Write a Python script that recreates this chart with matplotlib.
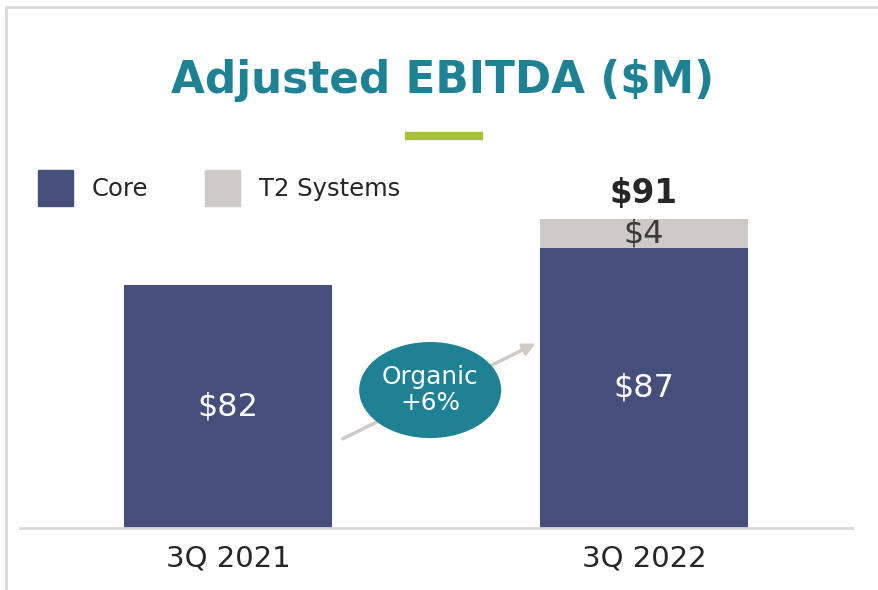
import matplotlib.pyplot as plt
from matplotlib.patches import Ellipse, Patch, Rectangle
from matplotlib.lines import Line2D

# data
quarters = ["3Q 2021", "3Q 2022"]
core = [82, 87]
t2 = [0, 4]
organic_label = "Organic\n+6%"

CORE_C = "#464F7C"
T2_C = "#CFCAC7"
TEAL = "#1F8294"
GREEN = "#A8C23E"

fig = plt.figure(figsize=(8.79, 5.9), dpi=100)
ax = fig.add_axes([20 / 879, 62 / 590, 832 / 879, 358 / 590])

x = list(range(len(quarters)))
ax.bar(x, core, width=0.5, color=CORE_C, zorder=2)
ax.bar(x, t2, width=0.5, bottom=core, color=T2_C, zorder=2)

ymin = 49.2
ax.set_xlim(-0.5, 1.5)
ax.set_ylim(ymin, 97.6)

for i in x:
    ax.text(i, (ymin + core[i]) / 2, f"${core[i]}", ha="center", va="center",
            color="white", fontsize=23)
    if t2[i] > 0:
        ax.text(i, core[i] + t2[i] / 2, f"${t2[i]}", ha="center", va="center",
                color="#3a3a3a", fontsize=23)
        total = core[i] + t2[i]
        ax.text(i, total + 3.4, f"${total}", ha="center", va="center",
                color="#262626", fontsize=23.5, fontweight="bold")

# organic growth arrow + bubble
ax.annotate("", xy=(0.745, 74.3), xytext=(0.27, 61.1),
            arrowprops=dict(arrowstyle="-|>,head_length=0.7,head_width=0.35",
                            color=T2_C, lw=2.5), zorder=3)
ax.add_patch(Ellipse((0.486, 67.85), 0.338, 12.8, color=TEAL, zorder=4))
ax.text(0.486, 67.85, organic_label, ha="center", va="center", color="white",
        fontsize=17.8, linespacing=1.1, zorder=5)

ax.set_xticks(x)
ax.set_xticklabels(quarters, fontsize=21, color="#262626")
ax.tick_params(axis="x", length=0, pad=12)
ax.set_yticks([])
for s in ["top", "right", "left"]:
    ax.spines[s].set_visible(False)
ax.spines["bottom"].set_color("#d9d9d9")
ax.spines["bottom"].set_linewidth(2)

# title + accent line
fig.text(0.504, 0.864, "Adjusted EBITDA ($M)", ha="center", va="center",
         color=TEAL, fontsize=31.5, fontweight="bold")
fig.add_artist(Rectangle((405 / 879, 1 - 139 / 590), 77 / 879, 7 / 590,
                         transform=fig.transFigure, color=GREEN))

# legend
handles = [Patch(color=CORE_C, label="Core"), Patch(color=T2_C, label="T2 Systems")]
fig.legend(handles=handles, loc="center left", bbox_to_anchor=(16 / 879, 1 - 188 / 590),
           ncol=2, frameon=False, fontsize=17.5, handlelength=1.44, handleheight=1.84,
           handletextpad=0.78, columnspacing=2.35, labelcolor="#262626")

# frame
fig.add_artist(Line2D([6 / 879, 6 / 879], [0, 1 - 7 / 590], transform=fig.transFigure,
                      color="#d9d9d9", lw=2))
fig.add_artist(Line2D([6 / 879, 1], [1 - 7 / 590, 1 - 7 / 590], transform=fig.transFigure,
                      color="#d9d9d9", lw=2))

fig.savefig("out.png", dpi=100)
